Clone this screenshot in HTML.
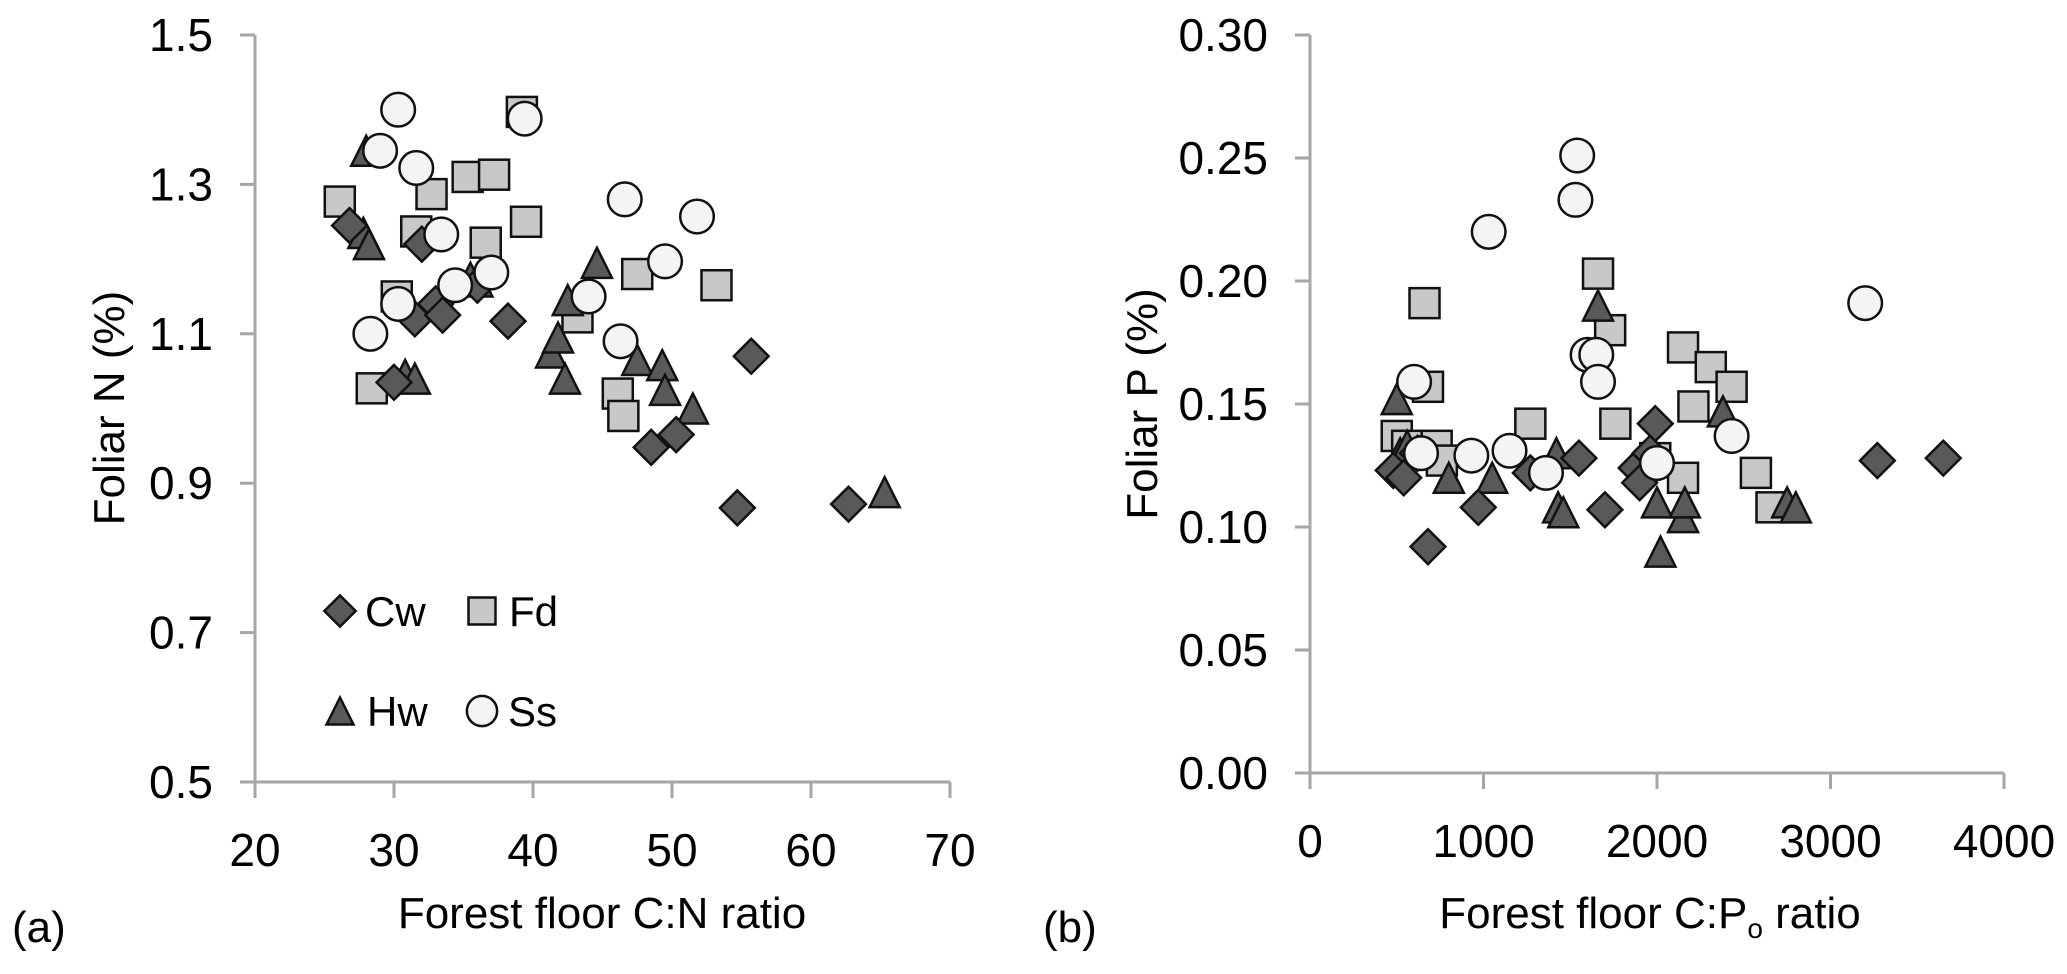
<!DOCTYPE html>
<html><head><meta charset="utf-8">
<style>
html,body{margin:0;padding:0;background:#fff;}
svg{display:block;font-family:"Liberation Sans",sans-serif;}
</style></head>
<body>
<svg id="chart" width="2067" height="974" viewBox="0 0 2067 974" xmlns="http://www.w3.org/2000/svg"></svg>
<script>
// Panel (a): Forest floor C:N ratio vs Foliar N (%)
const aCwX=[26.8,31.5,32,33,33.5,36,38.2,30,48.5,50.3,54.7,55.7,62.7];
const aCwY=[1.245,1.12,1.22,1.14,1.125,1.165,1.117,1.035,0.948,0.965,0.867,1.07,0.872];
const aHwX=[28,27.8,28.2,30.8,31.5,35.5,36,42.5,44.6,41.3,41.8,42.3,47.5,49.3,49.5,51.5,65.3];
const aHwY=[1.345,1.235,1.22,1.045,1.04,1.175,1.17,1.145,1.195,1.075,1.095,1.04,1.065,1.058,1.025,1.0,0.888];
const aFdX=[26.1,30.2,28.4,31.6,32.7,35.3,37.2,36.6,39.5,39.2,43.2,47.5,46.1,46.5,53.2];
const aFdY=[1.277,1.15,1.027,1.237,1.287,1.31,1.313,1.222,1.25,1.397,1.122,1.18,1.02,0.99,1.165];
const aSsX=[30.3,29,31.6,33.4,28.3,30.3,34.4,37,39.4,44,46.6,46.3,49.5,51.8];
const aSsY=[1.4,1.345,1.322,1.233,1.1,1.14,1.165,1.182,1.388,1.15,1.28,1.09,1.197,1.257];
const aXTicks=[20,30,40,50,60,70];
const aYTicks=[0.5,0.7,0.9,1.1,1.3,1.5];
// Panel (b): Forest floor C:Po ratio vs Foliar P (%)
const bCwX=[480,540,620,680,970,1270,1550,1700,1880,1900,1990,1960,3270,3650];
const bCwY=[0.123,0.12,0.13,0.092,0.108,0.122,0.128,0.107,0.124,0.118,0.142,0.13,0.127,0.128];
const bHwX=[500,520,560,800,1050,1420,1430,1460,1660,2000,2020,2150,2160,2380,2750,2800];
const bHwY=[0.152,0.13,0.133,0.12,0.12,0.13,0.108,0.106,0.19,0.11,0.09,0.104,0.11,0.147,0.11,0.108];
const bFdX=[500,560,660,680,730,760,1270,1660,1730,1760,2150,2210,2310,2430,2570,2660,2150,1990];
const bFdY=[0.137,0.133,0.191,0.157,0.133,0.127,0.142,0.203,0.18,0.142,0.173,0.149,0.165,0.157,0.122,0.108,0.12,0.128];
const bSsX=[600,640,930,1030,1150,1360,1540,1530,1600,1650,1660,2000,2430,3200];
const bSsY=[0.159,0.13,0.129,0.22,0.131,0.122,0.251,0.233,0.17,0.17,0.159,0.126,0.137,0.191];
const bXTicks=[0,1000,2000,3000,4000];
const bYTicks=[0.00,0.05,0.10,0.15,0.20,0.25,0.30];

const NS="http://www.w3.org/2000/svg";
const svg=document.getElementById('chart');
function mk(tag,attrs,parent){const e=document.createElementNS(NS,tag);for(const k in attrs)e.setAttribute(k,attrs[k]);(parent||svg).appendChild(e);return e;}
function scale(d0,d1,r0,r1){return v=>r0+(v-d0)/(d1-d0)*(r1-r0);}

const FILL={Cw:'#595959',Hw:'#595959',Fd:'#c8c8c8',Ss:'#f4f4f4'};
function marker(g,type,cx,cy,s){
  let e;
  if(type==='Cw'){const r=s*0.58;e=mk('polygon',{points:`${cx},${cy-r} ${cx+r},${cy} ${cx},${cy+r} ${cx-r},${cy}`},g);}
  else if(type==='Hw'){const h=s*0.5;e=mk('polygon',{points:`${cx},${cy-h} ${cx+h},${cy+h} ${cx-h},${cy+h}`},g);}
  else if(type==='Fd'){const h=s*0.5;e=mk('rect',{x:cx-h,y:cy-h,width:s,height:s},g);}
  else {e=mk('circle',{cx:cx,cy:cy,r:s*0.56},g);}
  e.setAttribute('fill',FILL[type]);e.setAttribute('stroke','#111');e.setAttribute('stroke-width','2.5');
  return e;
}

function panel(cfg){
  const g=mk('g',{});
  
  
  const sx=scale(cfg.xd[0],cfg.xd[1],cfg.x0,cfg.x1), sy=scale(cfg.yd[0],cfg.yd[1],cfg.y0,cfg.y1);
  const ya=mk('line',{x1:cfg.x0,y1:cfg.y1,x2:cfg.x0,y2:cfg.y0,stroke:'#a6a6a6','stroke-width':3},g);
  
  const xa=mk('line',{x1:cfg.x0-15,y1:cfg.y0,x2:cfg.x1,y2:cfg.y0,stroke:'#a6a6a6','stroke-width':3},g);
  
  cfg.yt.forEach(v=>{
    const y=sy(v);
    mk('line',{x1:cfg.x0-15,y1:y,x2:cfg.x0,y2:y,stroke:'#a6a6a6','stroke-width':3},g);
    const t=mk('text',{x:cfg.x0-42,y:y+16,'text-anchor':'end','font-size':46,fill:'#000'},g);
    t.textContent=v.toFixed(cfg.ydec);
    
  });
  cfg.xt.forEach(v=>{
    const x=sx(v);
    mk('line',{x1:x,y1:cfg.y0,x2:x,y2:cfg.y0+16,stroke:'#a6a6a6','stroke-width':3},g);
    const t=mk('text',{x:x,y:cfg.y0+84,'text-anchor':'middle','font-size':46,fill:'#000'},g);
    t.textContent=String(v);
    
  });
  const series=[['Fd',cfg.fd],['Hw',cfg.hw],['Cw',cfg.cw],['Ss',cfg.ss]];
  series.forEach(([type,[xs,ys]])=>{
    xs.forEach((xv,i)=>{
      const m=marker(g,type,sx(xv),sy(ys[i]),30);
      
      
    });
  });
  return g;
}

panel({name:'panel-a',x0:255,x1:950,y0:782,y1:35,xd:[20,70],yd:[0.5,1.5],xt:aXTicks,yt:aYTicks,ydec:1,
  cw:[aCwX,aCwY],hw:[aHwX,aHwY],fd:[aFdX,aFdY],ss:[aSsX,aSsY]});
panel({name:'panel-b',x0:1310,x1:2004,y0:773,y1:35,xd:[0,4000],yd:[0,0.30],xt:bXTicks,yt:bYTicks,ydec:2,
  cw:[bCwX,bCwY],hw:[bHwX,bHwY],fd:[bFdX,bFdY],ss:[bSsX,bSsY]});

const lg=mk('g',{});


[['Cw',340,611,365,626],['Fd',482,611,509,626],['Hw',340,711,367,726],['Ss',482,711,508,726]].forEach(([k,mx,my,tx,ty])=>{
  const m=marker(lg,k,mx,my,27);
  
  
  const t=mk('text',{x:tx,y:ty,'font-size':42,fill:'#000'},lg);
  t.textContent=k;
  
  
});

function txt(s,attrs,name){const t=mk('text',attrs);t.textContent=s;return t;}
txt('Forest floor C:N ratio',{x:602,y:928,'text-anchor':'middle','font-size':44,fill:'#000'},'x-axis-title-a');
txt('Foliar N (%)',{x:0,y:0,'text-anchor':'middle','font-size':44,fill:'#000',transform:'translate(124,408) rotate(-90)'},'y-axis-title-a');
txt('(a)',{x:12,y:942,'font-size':44,fill:'#000'},'panel-label-a');
const xb=txt('Forest floor C:P',{x:1650,y:928,'text-anchor':'middle','font-size':44,fill:'#000'},'x-axis-title-b');
const sub=mk('tspan',{'font-size':28,dy:10},xb);sub.textContent='o';
const rest=mk('tspan',{dy:-10},xb);rest.textContent=' ratio';
txt('Foliar P (%)',{x:0,y:0,'text-anchor':'middle','font-size':44,fill:'#000',transform:'translate(1157,404) rotate(-90)'},'y-axis-title-b');
txt('(b)',{x:1043,y:942,'font-size':44,fill:'#000'},'panel-label-b');
</script>
</body></html>
